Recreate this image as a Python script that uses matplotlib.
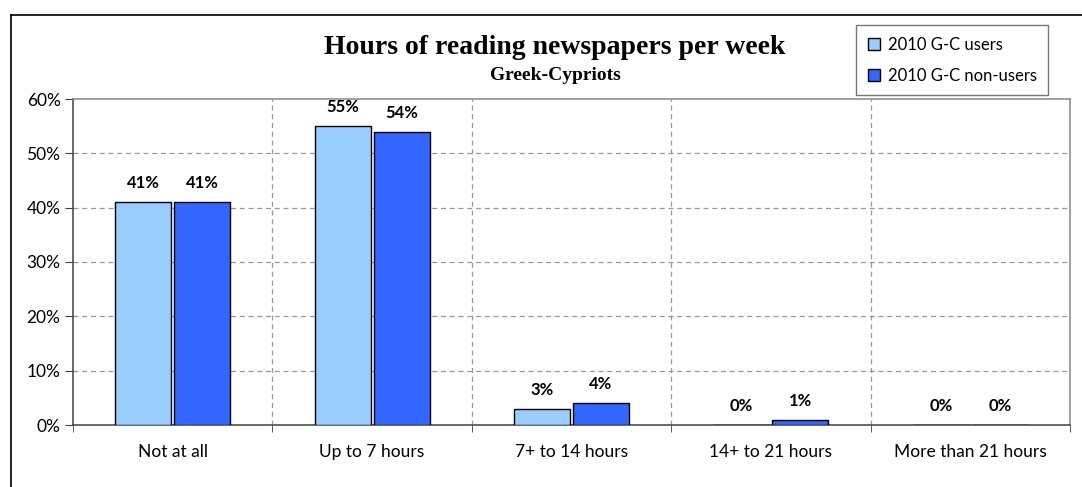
import matplotlib
matplotlib.use('Agg')
import matplotlib.pyplot as plt
from matplotlib.lines import Line2D
from matplotlib.ticker import FuncFormatter, FixedLocator
import numpy as np

categories = ["Not at all", "Up to 7 hours", "7+ to 14 hours", "14+ to 21 hours", "More than 21 hours"]
users = [41, 55, 3, 0, 0]
non_users = [41, 54, 4, 1, 0]
series_names = ["2010 G-C users", "2010 G-C non-users"]

plt.rcParams['font.family'] = ['Lato', 'DejaVu Sans']

W, H = 1082, 487
fig = plt.figure(figsize=(W / 100, H / 100), dpi=100)
ax = fig.add_axes([73 / W, 1 - 425 / H, (1070 - 73) / W, (425 - 99) / H])

x = np.arange(len(categories))
off = 0.148
bw = 0.281
b1 = ax.bar(x - off, users, bw, color='#99CCFF', edgecolor='black', linewidth=1, zorder=3, label=series_names[0])
b2 = ax.bar(x + off, non_users, bw, color='#3366FF', edgecolor='black', linewidth=1, zorder=3, label=series_names[1])

for bars, vals in ((b1, users), (b2, non_users)):
    for r, v in zip(bars, vals):
        ax.annotate(f"{v}%", (r.get_x() + r.get_width() / 2, v), xytext=(0, 13.7),
                    textcoords='offset points', ha='center', va='center',
                    fontsize=12, fontweight='bold')

ax.set_xlim(-0.5, len(categories) - 0.5)
ax.set_ylim(0, 60)
ax.set_yticks(range(0, 61, 10))
ax.yaxis.set_major_formatter(FuncFormatter(lambda v, p: f"{v:.0f}%"))
ax.set_xticks(x)
ax.set_xticklabels(categories)
ax.xaxis.set_minor_locator(FixedLocator(np.arange(-0.5, len(categories), 1.0)))
ax.tick_params(axis='x', which='major', length=0, pad=14, labelsize=12.5)
ax.tick_params(axis='x', which='minor', length=5, color='#404040', direction='out')
ax.tick_params(axis='y', length=6, color='#404040', labelsize=12.5, pad=3)

for yv in range(10, 60, 10):
    ax.axhline(yv, color='#999999', linestyle=(0, (4, 3)), linewidth=0.9, zorder=1)
for xv in np.arange(0.5, len(categories) - 1, 1.0):
    ax.axvline(xv, color='#999999', linestyle=(0, (4, 3)), linewidth=0.9, zorder=1)

ax.spines['left'].set_color('#404040')
ax.spines['bottom'].set_color('#404040')
ax.spines['top'].set_color('#888888')
ax.spines['right'].set_color('#888888')
for s in ax.spines.values():
    s.set_linewidth(1.1)

fig.text(555 / W, 1 - 48 / H, "Hours of reading newspapers per week", ha='center', va='center',
         family='Liberation Serif', fontweight='bold', fontsize=20)
fig.text(555 / W, 1 - 75 / H, "Greek-Cypriots", ha='center', va='center',
         family='Liberation Serif', fontweight='bold', fontsize=14)

leg = fig.legend(handles=[b1, b2], loc='upper left', bbox_to_anchor=(856 / W, 1 - 25 / H),
                 frameon=True, fancybox=False, fontsize=12, handlelength=0.75, handleheight=0.75,
                 handletextpad=0.45, labelspacing=0.9, borderpad=0.7, borderaxespad=0)
leg.get_frame().set_edgecolor('#555555')
leg.get_frame().set_linewidth(1.0)

# outer chart border (left and top visible)
fig.add_artist(Line2D([11 / W, 11 / W], [0, 1 - 15 / H], color='black', linewidth=1.2))
fig.add_artist(Line2D([11 / W, 1], [1 - 15 / H, 1 - 15 / H], color='black', linewidth=1.2))

fig.savefig("out.png", dpi=100)
